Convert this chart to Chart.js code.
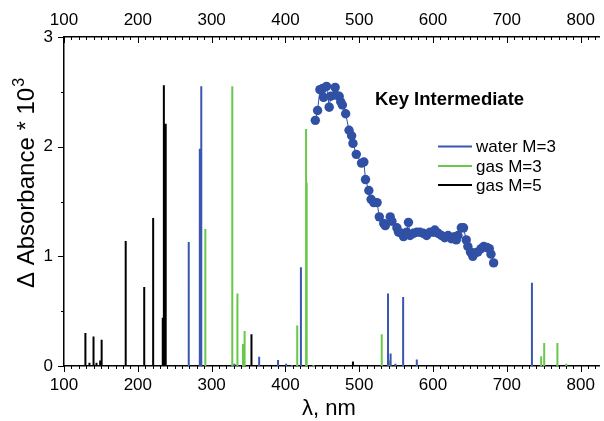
<!DOCTYPE html>
<html>
<head>
<meta charset="utf-8">
<script src="https://cdn.jsdelivr.net/npm/chart.js@4.4.0/dist/chart.umd.min.js"></script>
<style>
html,body{margin:0;padding:0;background:#fff;}
canvas{display:block;}
</style>
</head>
<body>
<canvas id="c" width="604" height="421"></canvas>
<script>
// ---- data ----
const xTicks = [100, 200, 300, 400, 500, 600, 700, 800];
const yTicks = [0, 1, 2, 3];

const waterM3Lambda = [269, 284, 286, 331, 364.4, 390, 401, 409, 421, 539, 542.5, 549, 559.5, 578, 734];
const waterM3Abs    = [1.13, 1.98, 2.55, 0.02, 0.085, 0.055, 0.02, 0.01, 0.90, 0.66, 0.115, 0.02, 0.63, 0.06, 0.76];

const gasM3Lambda = [291.5, 328, 335, 342.5, 344.7, 416, 428, 428.8, 438, 530.5, 540.7, 746.5, 750.6, 768.5, 780.5];
const gasM3Abs    = [1.25, 2.55, 0.66, 0.20, 0.32, 0.37, 2.16, 1.67, 0.01, 0.29, 0.05, 0.09, 0.21, 0.21, 0.02];

const gasM5Lambda = [129, 134.5, 140, 144, 149, 151, 183.6, 208.7, 216, 220.8, 233.8, 235.3, 237.8, 354, 491.5];
const gasM5Abs    = [0.30, 0.03, 0.27, 0.03, 0.05, 0.24, 1.14, 0.72, 0.01, 1.35, 0.44, 2.56, 2.21, 0.29, 0.04];

const keyLambda = [440.5,443.6,446.7,450.3,451.7,455.7,459.3,461.5,467.4,468.2,472.8,474.9,477.2,481.6,486.2,489.7,491.5,496,503.1,506.3,508.5,513,516.1,519.7,524.2,527.2,533.2,535.3,542,544.3,551,553.3,557.7,560,564.4,566.7,568.9,573.4,577.9,582.3,586.8,591.3,595.7,600.3,602.4,607,611.4,615.8,620.4,624.8,629.3,631.5,633.8,638.3,641.3,645,647.2,650.7,653.9,657,660.7,665.1,668.7,673.2,676.2,678.5,682.1];
const keyAbs = [2.24,2.33,2.52,2.53,2.45,2.55,2.36,2.46,2.54,2.47,2.46,2.41,2.38,2.30,2.15,2.10,2.03,1.93,1.85,1.86,1.70,1.60,1.52,1.49,1.49,1.36,1.30,1.28,1.36,1.32,1.26,1.22,1.21,1.18,1.22,1.31,1.19,1.21,1.22,1.22,1.21,1.19,1.22,1.22,1.24,1.21,1.19,1.17,1.19,1.16,1.18,1.15,1.19,1.26,1.26,1.15,1.09,1.04,1.00,1.03,1.04,1.07,1.09,1.08,1.07,1.02,0.94];

const seriesNames = ['water M=3', 'gas M=3', 'gas M=5'];
const keyLabel = 'Key Intermediate';

// ---- styles ----
const BLUE = '#3a56b2';
const GREEN = '#68c84a';
const BLACK = '#000000';
const DOT = '#3050a6';
const FONT = '"Liberation Sans", Arial, Helvetica, sans-serif';

function sticks(lams, vals) {
  const out = [];
  lams.forEach((l, i) => {
    out.push({x: l, y: 0});
    out.push({x: l, y: vals[i]});
    out.push({x: l, y: null});
  });
  return out;
}
function stickDs(label, lams, vals, color) {
  return {
    label, data: sticks(lams, vals), borderColor: color, backgroundColor: color,
    borderWidth: 2, pointRadius: 0, spanGaps: false, tension: 0, borderCapStyle: 'butt'
  };
}

const decor = {
  id: 'decor',
  afterDraw(chart) {
    const ctx = chart.ctx;
    const sx = chart.scales.x, sy = chart.scales.y;
    const area = chart.chartArea;
    ctx.save();
    ctx.strokeStyle = '#000';
    ctx.lineWidth = 1;
    // x minor/major ticks (bottom outward, top inward)
    for (let v = 100; v <= 820; v += 10) {
      const major = v % 100 === 0;
      const px = Math.round(sx.getPixelForValue(v)) + 0.5;
      const len = major ? 6 : 3;
      ctx.beginPath();
      ctx.moveTo(px, area.bottom); ctx.lineTo(px, area.bottom + len);
      ctx.moveTo(px, area.top); ctx.lineTo(px, area.top + len);
      ctx.stroke();
    }
    // y ticks
    for (let v = 0; v <= 3.0001; v += 0.5) {
      const major = Math.abs(v - Math.round(v)) < 1e-6;
      const py = Math.round(sy.getPixelForValue(v)) + 0.5;
      const len = major ? 6 : 3;
      ctx.beginPath();
      ctx.moveTo(area.left, py); ctx.lineTo(area.left - len, py);
      ctx.stroke();
    }
    // x title
    ctx.fillStyle = '#000';
    ctx.font = '22px ' + FONT;
    ctx.textAlign = 'center';
    ctx.textBaseline = 'alphabetic';
    ctx.fillText('λ, nm', 329, 415);
    // y title
    ctx.save();
    const main = 'Δ Absorbance * 10';
    ctx.font = '24px ' + FONT;
    const wMain = ctx.measureText(main).width;
    ctx.font = '16px ' + FONT;
    const wSup = ctx.measureText('3').width;
    const total = wMain + wSup + 1;
    const cy = 183;
    ctx.translate(34, cy + total / 2);
    ctx.rotate(-Math.PI / 2);
    ctx.textAlign = 'left';
    ctx.font = '24px ' + FONT;
    ctx.fillText(main, 0, 0);
    ctx.font = '16px ' + FONT;
    ctx.fillText('3', wMain + 1, -10);
    ctx.restore();
    // Key Intermediate
    ctx.font = 'bold 18.5px ' + FONT;
    ctx.textAlign = 'left';
    ctx.fillText(keyLabel, 375, 105);
    // legend
    const cols = [BLUE, GREEN, BLACK];
    const ys = [146.5, 166, 185];
    ctx.font = '17px ' + FONT;
    ctx.textBaseline = 'middle';
    seriesNames.forEach((n, i) => {
      ctx.strokeStyle = cols[i];
      ctx.lineWidth = 2;
      ctx.beginPath();
      ctx.moveTo(438, ys[i]); ctx.lineTo(472, ys[i]);
      ctx.stroke();
      ctx.fillStyle = '#000';
      ctx.fillText(n, 476, ys[i] + 1);
    });
    ctx.restore();
  }
};

const tickFont = {family: FONT, size: 17};

new Chart(document.getElementById('c'), {
  type: 'line',
  data: {
    datasets: [
      {
        label: keyLabel,
        data: keyLambda.map((l, i) => ({x: l, y: keyAbs[i]})),
        borderColor: DOT, backgroundColor: DOT, borderWidth: 1,
        pointRadius: 4.7, pointBorderWidth: 0, pointBackgroundColor: DOT, tension: 0
      },
      stickDs(seriesNames[0], waterM3Lambda, waterM3Abs, BLUE),
      stickDs(seriesNames[1], gasM3Lambda, gasM3Abs, GREEN),
      stickDs(seriesNames[2], gasM5Lambda, gasM5Abs, BLACK)
    ]
  },
  options: {
    responsive: false,
    animation: false,
    devicePixelRatio: 1,
    layout: {padding: {left: 0, right: 1, top: 0, bottom: 0}},
    plugins: {legend: {display: false}, tooltip: {enabled: false}},
    scales: {
      x: {
        type: 'linear', position: 'bottom', min: 100, max: 825,
        grid: {display: false, drawTicks: false},
        border: {display: true, color: '#000', width: 1.5},
        ticks: {font: tickFont, color: '#000', padding: 9, maxRotation: 0},
        afterBuildTicks: s => { s.ticks = xTicks.map(v => ({value: v})); },
        afterFit: s => { s.height = 55; }
      },
      x2: {
        type: 'linear', position: 'top', min: 100, max: 825,
        grid: {display: false, drawTicks: false},
        border: {display: true, color: '#000', width: 1.5},
        ticks: {font: tickFont, color: '#000', padding: 6, maxRotation: 0},
        afterBuildTicks: s => { s.ticks = xTicks.map(v => ({value: v})); },
        afterFit: s => { s.height = 37; }
      },
      y: {
        type: 'linear', position: 'left', min: 0, max: 3,
        grid: {display: false, drawTicks: false},
        border: {display: true, color: '#000', width: 1.5},
        ticks: {font: tickFont, color: '#000', padding: 11},
        afterBuildTicks: s => { s.ticks = yTicks.map(v => ({value: v})); },
        afterFit: s => { s.width = 64; }
      }
    }
  },
  plugins: [decor]
});
</script>
</body>
</html>
